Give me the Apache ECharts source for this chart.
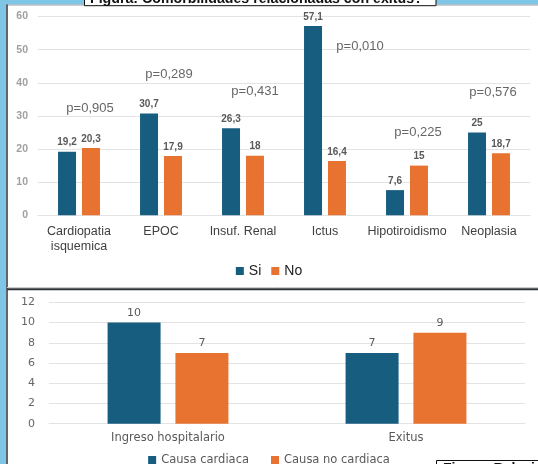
<!DOCTYPE html>
<html>
<head>
<meta charset="utf-8">
<script src="https://cdn.jsdelivr.net/npm/echarts@6/dist/echarts.min.js"></script>
<style>
  html, body { margin: 0; padding: 0; background: #ffffff; }
  #chart { width: 538px; height: 464px; }
</style>
</head>
<body>
<div id="chart"></div>
<script>
// Comorbidities by outcome (percent)
const comorbidities = ['Cardiopatia\nisquemica', 'EPOC', 'Insuf. Renal', 'Ictus', 'Hipotiroidismo', 'Neoplasia'];
const siValues = [19.2, 30.7, 26.3, 57.1, 7.6, 25];
const noValues = [20.3, 17.9, 18, 16.4, 15, 18.7];
const pTexts = ['p=0,905', 'p=0,289', 'p=0,431', 'p=0,010', 'p=0,225', 'p=0,576'];
const pHeights = [32.4, 42.4, 37.5, 51.1, 24.9, 37.2];
const topTicks = { min: 0, max: 60, interval: 10 };

// Hospital admission and death by cause
const outcomes = ['Ingreso hospitalario', 'Exitus'];
const cardiacValues = [10, 7];
const nonCardiacValues = [7, 9];
const bottomTicks = { min: 0, max: 12, interval: 2 };

const BLUE = '#175d80';
const ORANGE = '#e8722f';
const comma = v => String(v).replace('.', ',');

// horizontal nudges of the p-value captions
const pShift = [11, 8, 12, 35, 11, 4];

const chart = echarts.init(document.getElementById('chart'), null, { renderer: 'canvas' });

const option = {
  animation: false,
  backgroundColor: '#ffffff',
  legend: [
    {
      data: ['Si', 'No'],
      left: 'center', top: 259,
      itemWidth: 8, itemHeight: 8, itemGap: 10,
      icon: 'rect',
      textStyle: { fontFamily: 'Liberation Sans', fontSize: 14, color: '#222' }
    },
    {
      data: ['Causa cardiaca', 'Causa no cardiaca'],
      left: 'center', top: 449,
      itemWidth: 8, itemHeight: 8, itemGap: 22,
      icon: 'rect',
      textStyle: { fontFamily: 'DejaVu Sans', fontSize: 11.5, color: '#595959' }
    }
  ],
  grid: [
    { left: 38, right: 8, top: 16.5, bottom: 248.7, containLabel: false },
    { left: 49, right: 13, top: 302.3, bottom: 40.3, containLabel: false }
  ],
  xAxis: [
    {
      gridIndex: 0, type: 'category', data: comorbidities,
      axisLine: { show: true, lineStyle: { color: '#e3e3e3' } },
      axisTick: { show: false },
      axisLabel: { fontFamily: 'Liberation Sans', fontSize: 12.5, color: '#404040', margin: 9, lineHeight: 15, interval: 0 }
    },
    {
      gridIndex: 1, type: 'category', data: outcomes,
      axisLine: { show: true, lineStyle: { color: '#e3e3e3' } },
      axisTick: { show: false },
      axisLabel: { fontFamily: 'DejaVu Sans', fontSize: 11.5, color: '#595959', margin: 8 }
    }
  ],
  yAxis: [
    {
      gridIndex: 0, type: 'value', min: topTicks.min, max: topTicks.max, interval: topTicks.interval,
      axisLine: { show: false }, axisTick: { show: false },
      splitLine: { lineStyle: { color: '#e3e3e3' } },
      axisLabel: { fontFamily: 'Liberation Sans', fontSize: 10.5, fontWeight: 'bold', color: '#a0a0a0', margin: 10 }
    },
    {
      gridIndex: 1, type: 'value', min: bottomTicks.min, max: bottomTicks.max, interval: bottomTicks.interval,
      axisLine: { show: false }, axisTick: { show: false },
      splitLine: { lineStyle: { color: '#e3e3e3' } },
      axisLabel: { fontFamily: 'DejaVu Sans', fontSize: 11, color: '#666', margin: 14 }
    }
  ],
  series: [
    {
      name: 'Si', type: 'bar', xAxisIndex: 0, yAxisIndex: 0,
      data: siValues, barWidth: 18, barGap: '33%',
      itemStyle: { color: BLUE },
      label: { show: true, position: 'top', distance: 4, formatter: p => comma(p.value),
               fontFamily: 'Liberation Sans', fontSize: 10, fontWeight: 'bold', color: '#595959' }
    },
    {
      name: 'No', type: 'bar', xAxisIndex: 0, yAxisIndex: 0,
      data: noValues, barWidth: 18, barGap: '33%',
      itemStyle: { color: ORANGE },
      label: { show: true, position: 'top', distance: 4, formatter: p => comma(p.value),
               fontFamily: 'Liberation Sans', fontSize: 10, fontWeight: 'bold', color: '#595959' }
    },
    {
      name: 'p', type: 'scatter', xAxisIndex: 0, yAxisIndex: 0,
      symbolSize: 0, silent: true,
      data: pHeights.map((h, i) => ({
        value: [i, h],
        label: { offset: [pShift[i], 0] }
      })),
      label: { show: true, position: 'inside', formatter: p => pTexts[p.dataIndex],
               fontFamily: 'Liberation Sans', fontSize: 13, color: '#404040' }
    },
    {
      name: 'Causa cardiaca', type: 'bar', xAxisIndex: 1, yAxisIndex: 1,
      data: cardiacValues, barWidth: 53, barGap: '28%',
      itemStyle: { color: BLUE },
      label: { show: true, position: 'top', distance: 4,
               fontFamily: 'DejaVu Sans', fontSize: 11, color: '#595959' }
    },
    {
      name: 'Causa no cardiaca', type: 'bar', xAxisIndex: 1, yAxisIndex: 1,
      data: nonCardiacValues, barWidth: 53, barGap: '28%',
      itemStyle: { color: ORANGE },
      label: { show: true, position: 'top', distance: 4,
               fontFamily: 'DejaVu Sans', fontSize: 11, color: '#595959' }
    }
  ],
  graphic: [
    // page frame: blue margin on the left and top
    { type: 'rect', shape: { x: 0, y: 0, width: 6, height: 464 }, style: { fill: '#7fc6e6' }, silent: true },
    { type: 'rect', shape: { x: 0, y: 0, width: 538, height: 4.5 }, style: { fill: '#7fc6e6' }, silent: true },
    { type: 'line', shape: { x1: 6, y1: 5, x2: 538, y2: 5 }, style: { stroke: '#9aa0a4', lineWidth: 1 }, silent: true },
    { type: 'line', shape: { x1: 7, y1: 4.5, x2: 7, y2: 464 }, style: { stroke: '#2e3338', lineWidth: 1.5 }, silent: true },
    // divider between the two panels
    { type: 'line', shape: { x1: 7, y1: 287.5, x2: 538, y2: 287.5 }, style: { stroke: '#c9cdd0', lineWidth: 1 }, silent: true },
    { type: 'line', shape: { x1: 7, y1: 289.3, x2: 538, y2: 289.3 }, style: { stroke: '#2e3338', lineWidth: 2 }, silent: true },
    // caption box at the top
    { type: 'rect', shape: { x: 84.5, y: -2, width: 351.5, height: 7.7 },
      style: { fill: '#ffffff', stroke: '#111', lineWidth: 1 }, silent: true },
    { type: 'text', x: 90, y: 6.5, silent: true,
      style: { text: 'Figura: Comorbilidades relacionadas con exitus?', fontFamily: 'Liberation Sans',
               fontSize: 14.2, fontWeight: 'bold', fill: '#111', verticalAlign: 'bottom' } },
    // caption box at the bottom right
    { type: 'rect', shape: { x: 436.5, y: 460.5, width: 110, height: 10 },
      style: { fill: '#ffffff', stroke: '#111', lineWidth: 1 }, silent: true },
    { type: 'text', x: 443, y: 462.5, silent: true,
      style: { text: 'Figura. Relación entre', fontFamily: 'Liberation Sans',
               fontSize: 14, fontWeight: 'bold', fill: '#111', verticalAlign: 'top' } }
  ]
};

chart.setOption(option);
</script>
</body>
</html>
